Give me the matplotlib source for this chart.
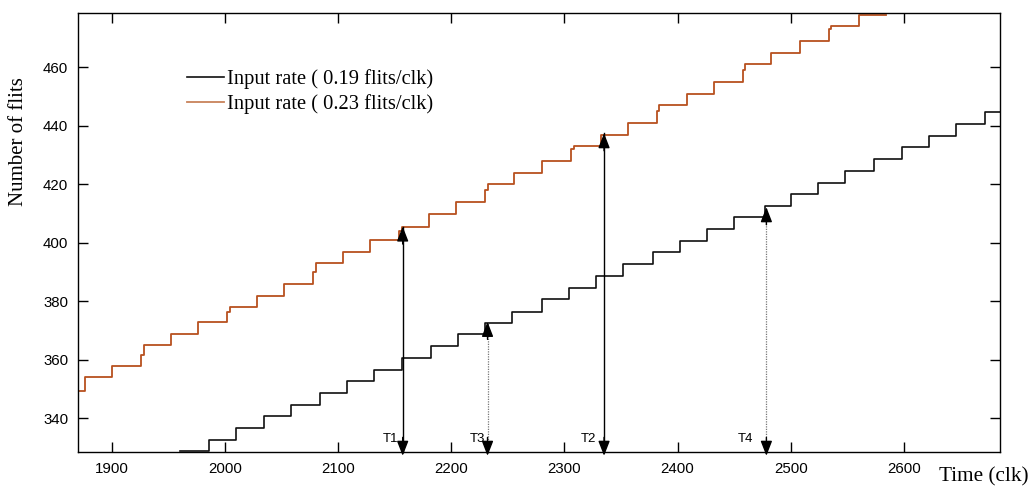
import matplotlib
matplotlib.use("Agg")
import matplotlib.pyplot as plt

# step times (clk) and cumulative flits
red_times = [1870, 1876, 1900, 1926, 1928, 1952, 1976, 2002, 2004, 2028,
             2052, 2078, 2080, 2104, 2128, 2154, 2156, 2180, 2204, 2230,
             2232, 2255, 2280, 2306, 2308, 2332, 2356, 2382, 2384, 2408,
             2432, 2458, 2460, 2483, 2508, 2534, 2536, 2560, 2584]
red_flits = [349.5, 354, 358, 361.5, 365, 369, 373, 376.3, 378, 382,
             386, 390, 393, 397, 401, 404, 405.6, 410, 414, 418,
             420, 424, 428, 432, 433, 437, 441, 445, 447, 451,
             455, 459, 461, 465, 469, 473, 474, 478, 478]

black_times = [1960, 1986, 2010, 2034, 2058, 2084, 2108, 2132, 2156, 2182,
               2206, 2230, 2254, 2280, 2304, 2328, 2352, 2378, 2402, 2426,
               2450, 2477, 2500, 2524, 2548, 2574, 2598, 2622, 2646, 2672, 2685]
black_flits = [328.7, 332.6, 336.6, 340.8, 344.7, 348.8, 352.8, 356.7, 360.8, 364.9,
               368.7, 372.6, 376.5, 380.7, 384.7, 388.6, 392.8, 396.9, 400.7, 404.7,
               409, 412.7, 416.8, 420.6, 424.7, 428.8, 432.7, 436.7, 440.8, 444.7, 444.7]

legend_labels = ["Input rate ( 0.19 flits/clk)", "Input rate ( 0.23 flits/clk)"]

# marker arrows T1..T4: name, time, top value, solid?
arrow_names = ["T1", "T3", "T2", "T4"]
arrow_x = [2157, 2232, 2335, 2478.5]
arrow_top = [405.6, 373, 437.5, 412.2]
arrow_solid = [True, False, True, False]
label_x = [2146, 2223, 2321, 2460]

xticks = [1900, 2000, 2100, 2200, 2300, 2400, 2500, 2600]
yticks = [340, 360, 380, 400, 420, 440, 460]

sans = "Liberation Sans"
serif = "Liberation Serif"

fig = plt.figure(figsize=(10.32, 4.88), dpi=100)
ax = fig.add_axes([78/1032, 1-452/488, (1000-78)/1032, (452-13)/488])

l1, = ax.step(black_times, black_flits, where="post", color="#111111", lw=1.2)
l2, = ax.step(red_times, red_flits, where="post", color="#b8501f", lw=1.3)

ymin, ymax = 328.5, 478.6
ax.set_xlim(1870, 2685)
ax.set_ylim(ymin, ymax)

head = "-|>,head_length=0.9,head_width=0.35"
# arrows: shaft + heads at both ends
for name, x, top, solid, lx in zip(arrow_names, arrow_x, arrow_top, arrow_solid, label_x):
    if solid:
        ax.plot([x, x], [ymin, top], color="black", lw=1.0, clip_on=False)
    else:
        ax.plot([x, x], [ymin, top], color="#777777", lw=0.9, ls=(0, (1, 1)), clip_on=False)
    ax.annotate("", xy=(x, top), xytext=(x, top - 6),
                arrowprops=dict(arrowstyle=head, color="black", lw=1.0,
                                shrinkA=0, shrinkB=0))
    ax.annotate("", xy=(x, ymin - 1.3), xytext=(x, ymin + 5),
                arrowprops=dict(arrowstyle=head, color="black", lw=1.0,
                                shrinkA=0, shrinkB=0),
                annotation_clip=False)
    ax.text(lx, 332.8, name, fontsize=9.5, family=sans, ha="center", va="center")

ax.set_xticks(xticks)
ax.set_yticks(yticks)
ax.tick_params(direction="in", length=7, width=1, top=True, right=True,
               labelsize=10.8, pad=7)
for lab in ax.get_xticklabels() + ax.get_yticklabels():
    lab.set_family(sans)
for s in ax.spines.values():
    s.set_linewidth(1.0)

leg = ax.legend([l1, l2], legend_labels, loc="upper left",
                bbox_to_anchor=(187/1032, 1-69/488), bbox_transform=fig.transFigure,
                frameon=False, prop={"family": serif, "size": 14.8},
                handlelength=1.8, handletextpad=0.15, labelspacing=0.25,
                borderpad=0, borderaxespad=0)
leg.get_lines()[1].set_color("#c8825a")

fig.text(19/1032, 1-142/488, "Number of flits", rotation=90, family=serif,
         fontsize=15, ha="center", va="center")
fig.text(939/1032, 1-477/488, "Time (clk)", family=serif, fontsize=15.3,
         ha="left", va="center")

fig.savefig("out.png", dpi=100)
